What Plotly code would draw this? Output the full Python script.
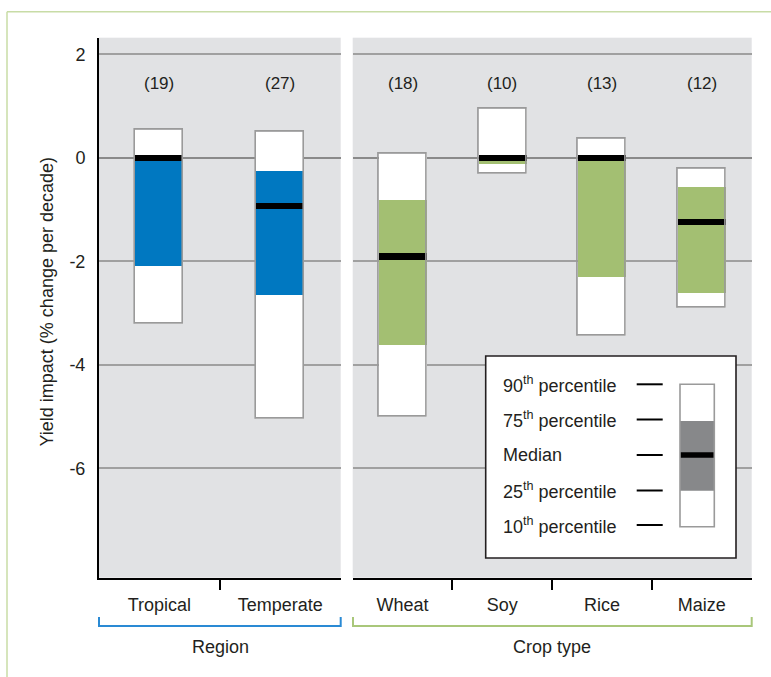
import plotly.graph_objects as go

# ---------------- data ----------------
regions = ["Tropical", "Temperate"]
region_p10 = [-3.20, -5.03]
region_p25 = [-2.08, -2.64]
region_median = [0.00, -0.93]
region_p75 = [-0.05, -0.25]
region_p90 = [0.54, 0.50]
region_n = [19, 27]

crops = ["Wheat", "Soy", "Rice", "Maize"]
crop_p10 = [-5.00, -0.31, -3.43, -2.90]
crop_p25 = [-3.60, -0.12, -2.30, -2.61]
crop_median = [-1.90, 0.00, 0.00, -1.24]
crop_p75 = [-0.81, -0.05, -0.05, -0.56]
crop_p90 = [0.08, 0.95, 0.37, -0.21]
crop_n = [18, 10, 13, 12]

y_tickvals = [2, 0, -2, -4, -6]
y_ticktext = ["2", "0", "-2", "-4", "-6"]
legend_labels = ["90<sup>th</sup> percentile", "75<sup>th</sup> percentile", "Median",
                 "25<sup>th</sup> percentile", "10<sup>th</sup> percentile"]

# ---------------- styling ----------------
W, H = 771, 677
FONT = "Liberation Sans"
TXT = "#231f20"
BLUE = "#0078c1"
GREEN = "#a3bf72"
BG = "#e1e2e4"
OUTLINE = "#9a9a9a"
MED_H = 0.12
COUNT_Y = 1.44
Y_RANGE = [-8.11, 2.32]


def px(x):
    return x / W


def py(y):
    return 1 - y / H


LEFT_DOM = [px(99), px(340.7)]
RIGHT_DOM = [px(352.7), px(751.7)]
Y_DOM = [py(577.7), py(37.7)]
BOX_PX = 48.0

fig = go.Figure()
annotations = []


def add_panel(cats, p10, p25, med, p75, p90, n, color, xa, ya, dom):
    xs = list(range(len(cats)))
    slot_px = (dom[1] - dom[0]) * W / len(cats)
    w = BOX_PX / slot_px
    common = dict(x=xs, width=w, xaxis=xa, yaxis=ya, showlegend=False, hoverinfo="skip")
    fig.add_trace(go.Bar(base=p10, y=[b - a for a, b in zip(p10, p90)],
                         marker=dict(color="white", line=dict(width=0)), **common))
    fig.add_trace(go.Bar(base=p25, y=[b - a for a, b in zip(p25, p75)],
                         marker=dict(color=color, line=dict(width=0)), **common))
    fig.add_trace(go.Bar(base=[m - MED_H / 2 for m in med], y=[MED_H] * len(med),
                         marker=dict(color="black", line=dict(width=0)), **common))
    fig.add_trace(go.Bar(base=p10, y=[b - a for a, b in zip(p10, p90)],
                         marker=dict(color="rgba(0,0,0,0)", line=dict(width=1.6, color=OUTLINE)),
                         **common))
    for xv, v in zip(xs, n):
        annotations.append(dict(xref=xa, yref=ya, x=xv, y=COUNT_Y, text="(%d)" % v,
                                showarrow=False, xanchor="center", yanchor="middle",
                                font=dict(family=FONT, size=17, color=TXT)))


add_panel(regions, region_p10, region_p25, region_median, region_p75, region_p90,
          region_n, BLUE, "x", "y", LEFT_DOM)
add_panel(crops, crop_p10, crop_p25, crop_median, crop_p75, crop_p90,
          crop_n, GREEN, "x2", "y2", RIGHT_DOM)


def xaxis_cfg(cats, dom):
    return dict(
        domain=dom, type="linear", range=[-0.5, len(cats) - 0.5],
        tickmode="array", tickvals=list(range(len(cats))), ticktext=cats,
        ticks="", showgrid=False, zeroline=False,
        showline=True, linecolor="black", linewidth=2,
        tickfont=dict(family=FONT, size=18, color=TXT),
        ticklabelstandoff=10,
        minor=dict(tickmode="array", tickvals=[i + 0.5 for i in range(len(cats) - 1)],
                   ticks="outside", ticklen=10, tickwidth=2, tickcolor="black",
                   showgrid=False),
        fixedrange=True,
    )


yax_common = dict(
    domain=Y_DOM, range=Y_RANGE, tickmode="array", tickvals=y_tickvals,
    showgrid=True, gridcolor="#a0a0a0", gridwidth=1.5,
    zeroline=True, zerolinecolor="#8a8a8a", zerolinewidth=2,
    ticks="", fixedrange=True,
)

fig.update_layout(
    width=W, height=H,
    margin=dict(l=0, r=0, t=0, b=0),
    paper_bgcolor="white", plot_bgcolor=BG,
    barmode="overlay", bargap=0,
    xaxis=dict(anchor="y", **xaxis_cfg(regions, LEFT_DOM)),
    xaxis2=dict(anchor="y2", **xaxis_cfg(crops, RIGHT_DOM)),
    yaxis=dict(anchor="x", ticktext=y_ticktext, showline=True, linecolor="black",
               linewidth=2, tickfont=dict(family=FONT, size=18, color=TXT),
               ticklabelstandoff=8, **yax_common),
    yaxis2=dict(anchor="x2", matches="y", showline=False, showticklabels=False,
                **yax_common),
    font=dict(family=FONT, color=TXT),
)

shapes = []
# outer partial frame
FRAME = "#c8dca6"
shapes.append(dict(type="line", xref="paper", yref="paper", x0=px(7), x1=1, y0=py(11.7), y1=py(11.7),
                   line=dict(color=FRAME, width=1.5)))
shapes.append(dict(type="line", xref="paper", yref="paper", x0=px(7), x1=px(7), y0=py(11.7), y1=0,
                   line=dict(color=FRAME, width=1.5)))


def bracket(x0, x1, color):
    ytop, ybot = 617, 626
    path = "M %f,%f L %f,%f L %f,%f L %f,%f" % (px(x0), py(ytop), px(x0), py(ybot),
                                                 px(x1), py(ybot), px(x1), py(ytop))
    return dict(type="path", xref="paper", yref="paper", path=path,
                line=dict(color=color, width=2))


shapes.append(bracket(99, 340.7, "#2a8ad4"))
shapes.append(bracket(353, 751.7, "#a9c77a"))

# legend box
shapes.append(dict(type="rect", xref="paper", yref="paper", layer="above",
                   x0=px(485.7), x1=px(736), y0=py(558), y1=py(356),
                   fillcolor="white", line=dict(color="#231f20", width=1.6)))
bx0, bx1 = px(680), px(714.3)
row_y = [384.3, 419.5, 455, 490.5, 525]
shapes.append(dict(type="rect", xref="paper", yref="paper", layer="above",
                   x0=bx0, x1=bx1, y0=py(526.7), y1=py(384.3),
                   fillcolor="white", line=dict(width=0)))
shapes.append(dict(type="rect", xref="paper", yref="paper", layer="above",
                   x0=bx0, x1=bx1, y0=py(490.7), y1=py(421),
                   fillcolor="#87888a", line=dict(width=0)))
shapes.append(dict(type="rect", xref="paper", yref="paper", layer="above",
                   x0=bx0, x1=bx1, y0=py(457.8), y1=py(452.2),
                   fillcolor="black", line=dict(width=0)))
shapes.append(dict(type="rect", xref="paper", yref="paper", layer="above",
                   x0=bx0, x1=bx1, y0=py(526.7), y1=py(384.3),
                   fillcolor="rgba(0,0,0,0)", line=dict(color=OUTLINE, width=1.6)))
for yy in row_y:
    shapes.append(dict(type="line", xref="paper", yref="paper", layer="above",
                       x0=px(636.7), x1=px(662.7), y0=py(yy), y1=py(yy),
                       line=dict(color="black", width=2)))

for lab, yy in zip(legend_labels, row_y):
    annotations.append(dict(xref="paper", yref="paper", x=px(501), y=py(yy),
                            xanchor="left", yanchor="middle", text=lab, showarrow=False,
                            font=dict(family=FONT, size=18, color=TXT)))

annotations.append(dict(xref="paper", yref="paper", x=px(220), y=py(646.5),
                        text="Region", showarrow=False, xanchor="center", yanchor="middle",
                        font=dict(family=FONT, size=18, color=TXT)))
annotations.append(dict(xref="paper", yref="paper", x=px(552), y=py(646.5),
                        text="Crop type", showarrow=False, xanchor="center", yanchor="middle",
                        font=dict(family=FONT, size=18, color=TXT)))
annotations.append(dict(xref="paper", yref="paper", x=px(47), y=py(301.5),
                        text="Yield impact (% change per decade)", showarrow=False,
                        textangle=-90, xanchor="center", yanchor="middle",
                        font=dict(family=FONT, size=18, color=TXT)))

fig.update_layout(shapes=shapes, annotations=annotations)

fig.write_html("out.html", config={"displayModeBar": False},
               post_script="document.body.style.margin='0px';")
